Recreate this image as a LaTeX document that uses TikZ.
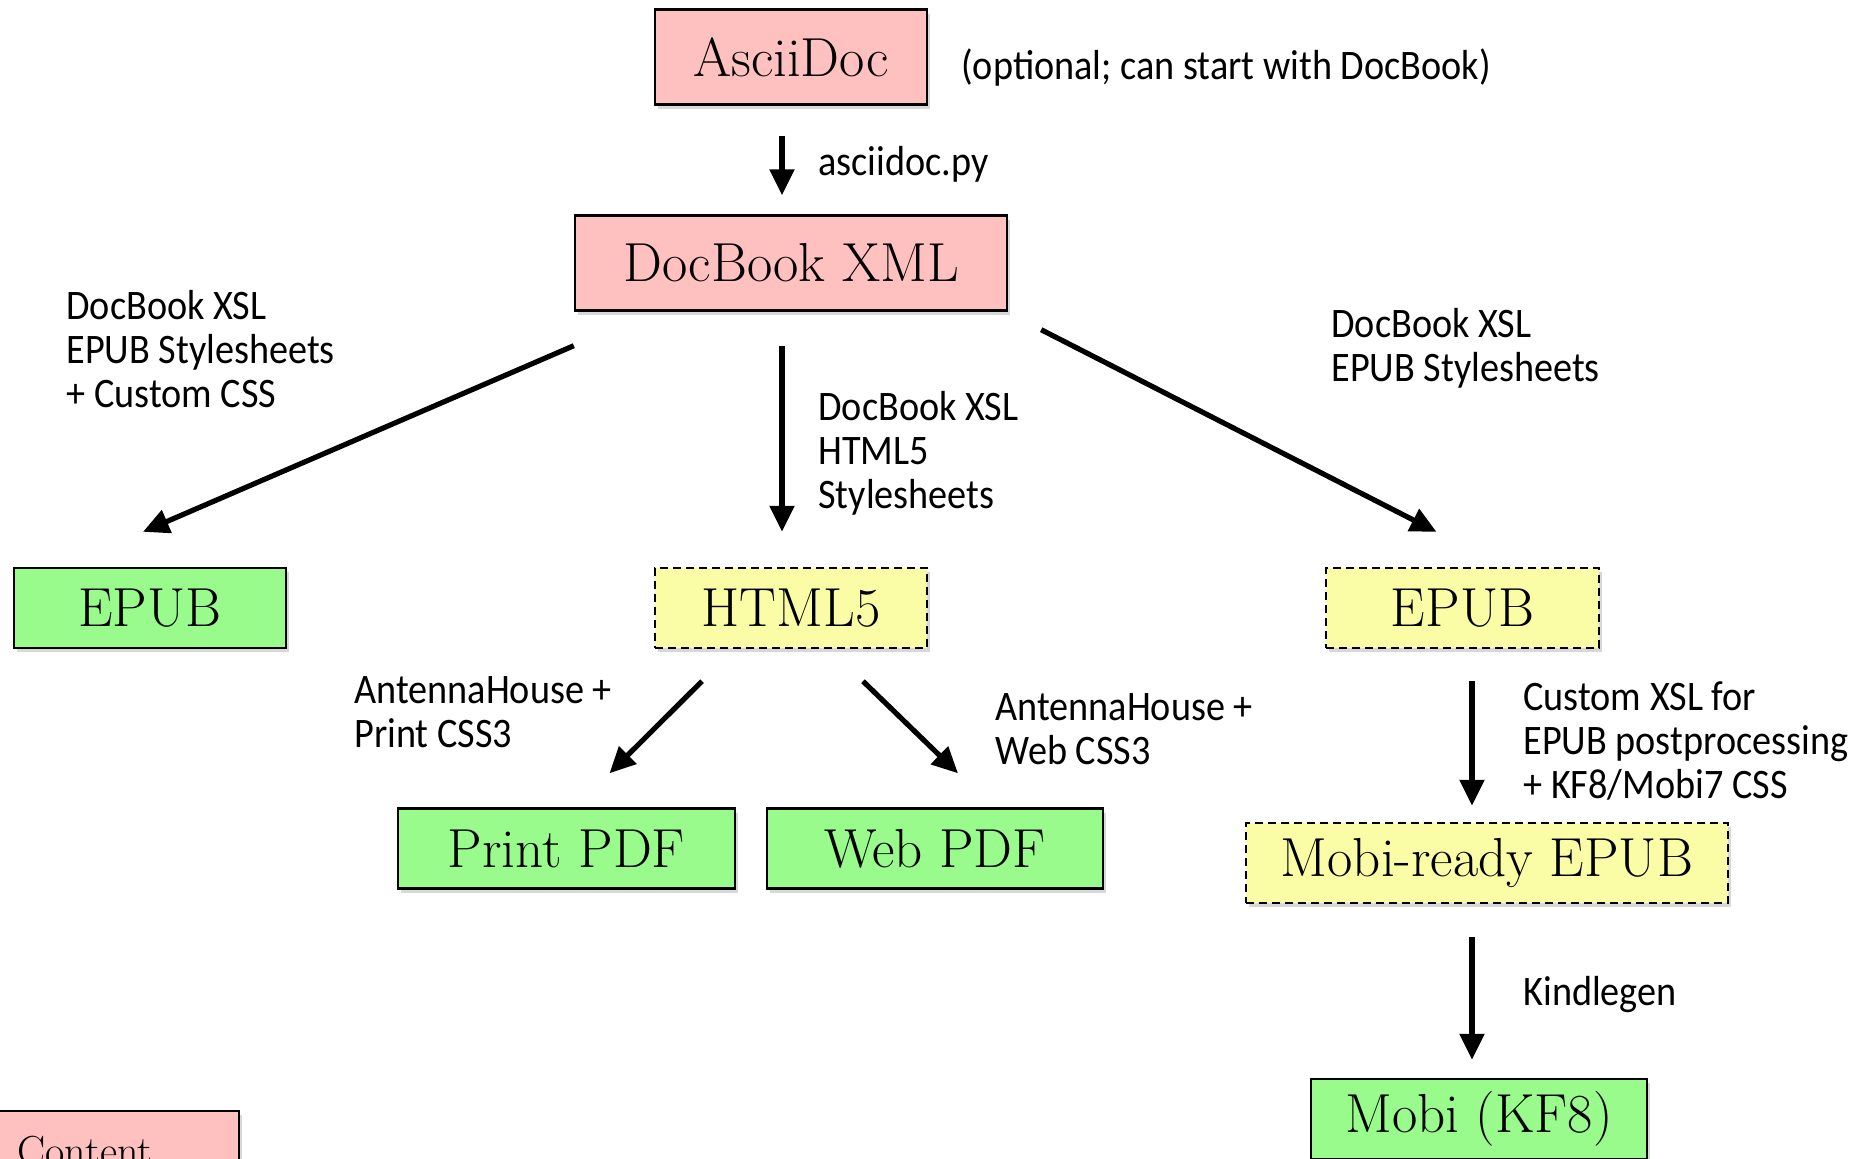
\documentclass[tikz,border=0pt]{standalone}
\usepackage{fontspec}
\newfontfamily\handfont[FakeStretch=0.91]{Carlito}
\usetikzlibrary{arrows.meta,shadows}
\definecolor{pinkfill}{RGB}{255,192,192}
\definecolor{greenfill}{RGB}{152,251,140}
\definecolor{yellowfill}{RGB}{250,252,166}
\tikzset{
  box/.style={draw=black, line width=1.2pt, font=\fontsize{27.5}{32}\selectfont, inner sep=0pt,
    drop shadow={shadow xshift=1.5pt, shadow yshift=-2pt, opacity=0.3}},
  contentbox/.style={box, fill=pinkfill},
  finalbox/.style={box, fill=greenfill},
  interimbox/.style={box, fill=yellowfill, dash pattern=on 4pt off 2.5pt},
  flow/.style={line width=2.6pt, -{Triangle[width=12pt,length=13pt]}},
  note/.style={font=\handfont\fontsize{21}{22}\selectfont, align=left, inner sep=0pt, anchor=north west},
}
\begin{document}
\begin{tikzpicture}[x=0.5pt,y=-0.5pt]
\useasboundingbox (0,0) rectangle (1870,1158);
\fill[white] (0,0) rectangle (1870,1158);
\clip (0,0) rectangle (1870,1158);

% boxes
\node[contentbox, minimum width=136pt, minimum height=47.5pt] (ad) at (791,57) {AsciiDoc};
\node[contentbox, minimum width=216pt, minimum height=47.5pt] (db) at (791,263) {DocBook XML};
\node[finalbox, minimum width=136pt, minimum height=40pt] (epubA) at (150,608) {EPUB};
\node[interimbox, minimum width=136pt, minimum height=40pt] (html) at (791,608) {HTML5};
\node[interimbox, minimum width=136.5pt, minimum height=40pt] (epubB) at (1462.5,608) {EPUB};
\node[finalbox, minimum width=168.5pt, minimum height=40pt] (ppdf) at (566.5,848.5) {Print PDF};
\node[finalbox, minimum width=168pt, minimum height=40pt] (wpdf) at (935,848.5) {Web PDF};
\node[interimbox, minimum width=241pt, minimum height=40pt] (mr) at (1487,863) {Mobi-ready EPUB};
\node[finalbox, minimum width=168pt, minimum height=40pt] (mobi) at (1479,1119) {Mobi (KF8)};
\node[contentbox, minimum width=154pt, minimum height=40pt, font=\fontsize{21}{24}\selectfont] (content) at (85,1151) {Content};

% arrows
\draw[flow] ([xshift=-4.5pt,yshift=-15pt]ad.south) -- ([xshift=-4.5pt,yshift=9.5pt]db.north);
\draw[flow] ([yshift=-17pt]db.south west) -- ([xshift=-3.5pt,yshift=17.5pt]epubA.north);
\draw[flow] ([xshift=-4.5pt,yshift=-17pt]db.south) -- ([xshift=-4.5pt,yshift=17.5pt]html.north);
\draw[flow] ([xshift=16.5pt,yshift=-9pt]db.south east) -- ([xshift=-13pt,yshift=17.5pt]epubB.north);
\draw[flow] ([xshift=-44.5pt,yshift=-16pt]html.south) -- ([xshift=21.5pt,yshift=17pt]ppdf.north);
\draw[flow] ([xshift=36pt,yshift=-16pt]html.south) -- ([xshift=11.5pt,yshift=17pt]wpdf.north);
\draw[flow] ([xshift=4.75pt,yshift=-16pt]epubB.south) -- ([xshift=-7.5pt,yshift=8pt]mr.north);
\draw[flow] ([xshift=-7.5pt,yshift=-16.5pt]mr.south) -- ([xshift=-3.5pt,yshift=9pt]mobi.north);

% labels
\node[note] (nopt) at (961,48) {(optional; can start with DocBook)};
\node[note] (nasc) at (818,146) {asciidoc.py};
\node[note] (nleft) at (66,290) {DocBook XSL\\EPUB Stylesheets\\+ Custom CSS};
\node[note] (nmid) at (818,391) {DocBook XSL\\HTML5\\Stylesheets};
\node[note] (nright) at (1331,308) {DocBook XSL\\EPUB Stylesheets};
\node[note] (nprint) at (354,676) {AntennaHouse +\\Print CSS3};
\node[note] (nweb) at (995,693) {AntennaHouse +\\Web CSS3};
\node[note] (ncustom) at (1523,681) {Custom XSL for\\EPUB postprocessing\\+ KF8/Mobi7 CSS};
\node[note] (nkindle) at (1523,976) {Kindlegen};
\end{tikzpicture}
\end{document}
